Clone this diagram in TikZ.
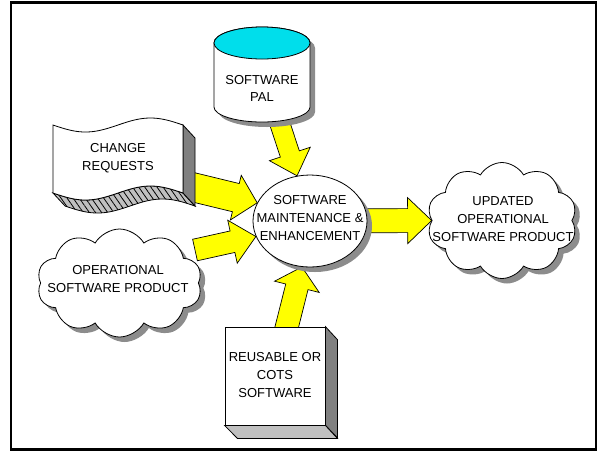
\documentclass[tikz,border=0pt]{standalone}
\usepackage{fontspec}
\setmainfont{Liberation Sans}
\usetikzlibrary{calc,shapes.geometric,shapes.symbols,shadows,patterns.meta}

\definecolor{padyellow}{RGB}{255,255,0}
\definecolor{facegray}{RGB}{128,128,128}
\definecolor{lightface}{RGB}{192,192,192}
\definecolor{shadowgray}{RGB}{140,140,140}
\definecolor{palcyan}{RGB}{0,222,235}

\pgfdeclarelayer{paper}
\pgfdeclarelayer{arrows}
\pgfsetlayers{paper,arrows,main}

% block arrow: tail, tip, shaft half width, head half width, head length
\newcommand\yarrow[5]{%
  \coordinate (ya-base) at ($(#2)!#5!(#1)$);
  \draw[yarrowline] ($(#1)!#3!90:(#2)$) -- ($(ya-base)!#3!90:(#2)$)
    -- ($(ya-base)!#4!90:(#2)$) -- (#2) -- ($(ya-base)!#4!-90:(#2)$)
    -- ($(ya-base)!#3!-90:(#2)$) -- ($(#1)!#3!-90:(#2)$) -- cycle;}

\begin{document}
\begin{tikzpicture}[x=1pt,y=1pt,
  outline/.style={draw=black, line width=0.8pt},
  yarrowline/.style={draw=black, fill=padyellow, line width=0.7pt, line join=miter},
  lbl/.style={align=center, inner sep=0pt, font={\fontsize{13}{17.8}\selectfont}},
  dshadow/.style={drop shadow={shadow xshift=5pt, shadow yshift=-5pt, fill=shadowgray, opacity=1}},
  puffy/.style={cloud, cloud puffs=10, cloud puff arc=120, cloud ignores aspect,
    outline, fill=white, inner sep=0pt, dshadow},
]
\begin{pgfonlayer}{paper}
  \fill[white] (0,0) rectangle (601,-451);
\end{pgfonlayer}
\useasboundingbox (0,0) rectangle (601,-451);

% software PAL cylinder
\begin{scope}[shift={(5,-5)}]
  \fill[shadowgray] (214,-43) -- (214,-107) arc[start angle=180,end angle=360,x radius=48,y radius=15]
    -- (310,-43) arc[start angle=0,end angle=180,x radius=48,y radius=16] -- cycle;
\end{scope}
\filldraw[outline, fill=white] (214,-43) -- (214,-107) arc[start angle=180,end angle=360,x radius=48,y radius=15]
  -- (310,-43) arc[start angle=0,end angle=180,x radius=48,y radius=16] -- cycle;
\filldraw[outline, fill=palcyan] (262,-43) ellipse[x radius=48, y radius=16];
\node[lbl] (pal) at (262,-88.5) {SOFTWARE\\PAL};

% change requests tape with extruded faces
\fill[lightface] plot[domain=0:1,samples=60] ({53+130*\x},{-193-7*sin(360*\x)})
  -- plot[domain=1:0,samples=60] ({65+130*\x},{-206-7*sin(360*\x)}) -- cycle;
\fill[pattern={Lines[angle=-55,distance=5pt,line width=0.8pt]}, pattern color=black]
  plot[domain=0:1,samples=60] ({53+130*\x},{-193-7*sin(360*\x)})
  -- plot[domain=1:0,samples=60] ({65+130*\x},{-206-7*sin(360*\x)}) -- cycle;
\draw[outline] plot[domain=0:1,samples=60] ({53+130*\x},{-193-7*sin(360*\x)})
  -- plot[domain=1:0,samples=60] ({65+130*\x},{-206-7*sin(360*\x)}) -- cycle;
\filldraw[outline, fill=facegray] (183,-125) -- (195,-138) -- (195,-206) -- (183,-193) -- cycle;
\filldraw[outline, fill=white] plot[domain=0:1,samples=60] ({53+130*\x},{-125-7*sin(360*\x)})
  -- plot[domain=1:0,samples=60] ({53+130*\x},{-193-7*sin(360*\x)}) -- cycle;
\node[lbl] (chg) at (118,-158.5) {CHANGE\\REQUESTS};

% central process
\node[ellipse, outline, fill=white, minimum width=114pt, minimum height=92pt, inner sep=0pt, dshadow]
  (sme) at (310,-221) {};
\node[lbl] (sme-txt) at (310,-218) {SOFTWARE\\MAINTENANCE \&\\ENHANCEMENT};

% clouds
\node[puffy, minimum width=165pt, minimum height=108pt] (ops) at (119.5,-283) {};
\node[lbl] (ops-txt) at (118,-279) {OPERATIONAL\\SOFTWARE PRODUCT};
\node[puffy, minimum width=150pt, minimum height=116pt] (upd) at (502,-220.5) {};
\node[lbl] (upd-txt) at (503,-219) {UPDATED\\OPERATIONAL\\SOFTWARE PRODUCT};

% reusable / COTS block
\node[outline, fill=white, minimum width=100pt, minimum height=98pt, inner sep=0pt] (cots) at (275,-376) {};
\filldraw[outline, fill=facegray] (cots.north east) -- ++(12,-13) -- ++(0,-98) -- (cots.south east) -- cycle;
\filldraw[outline, fill=lightface] (cots.south west) -- (cots.south east) -- ++(12,-13) -- ++(-100,0) -- cycle;
\node[lbl] (cots-txt) at (275,-375) {REUSABLE OR\\COTS\\SOFTWARE};

% arrow tails hidden behind the source shapes
\coordinate (palfoot) at (278,-118);
\coordinate (chgside) at (188,-186);
\coordinate (opsside) at (195,-250);
\coordinate (cotstop) at (286,-330);

\begin{pgfonlayer}{arrows}
  \yarrow{palfoot}{sme.106}{10pt}{21.5pt}{23pt}
  \yarrow{chgside}{sme.161}{14.5pt}{23pt}{22pt}
  \yarrow{opsside}{sme.196}{11pt}{22pt}{24pt}
  \yarrow{cotstop}{sme.260}{11.5pt}{23pt}{20.5pt}
  \yarrow{sme.center}{upd.west}{12pt}{23pt}{24pt}
\end{pgfonlayer}

% frame
\draw[line width=2.6pt] (11,-2.5) rectangle (596,-449.5);
\end{tikzpicture}
\end{document}
